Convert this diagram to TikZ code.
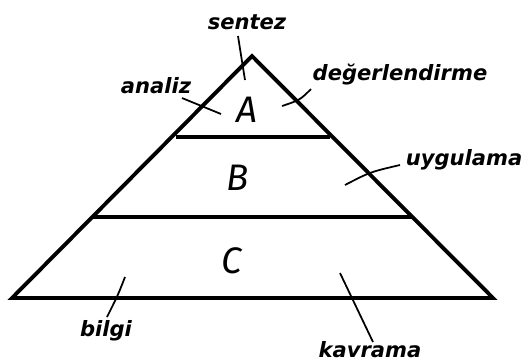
\documentclass[tikz,border=0pt]{standalone}
\usepackage{fontspec}
\setmainfont{Fira Sans}
\newfontfamily\hand{DejaVu Sans}
\begin{document}
\begin{tikzpicture}[x=0.02cm,y=-0.02cm,
  level/.style={line width=2.2pt},
  leader/.style={line width=1pt},
  lbl/.style={font=\hand\fontsize{12}{14}\selectfont\bfseries\itshape},
  letter/.style={font=\fontsize{21}{24}\selectfont\itshape}]
\useasboundingbox (0,0) rectangle (523,363);
\draw[level, line join=miter] (12,298) -- (252,56) -- (493,298) -- cycle;
\draw[level] (176,137) -- (330,137);
\draw[level] (92,217) -- (413,217);
\node[letter] (a) at (247,110) {A};
\node[letter] (b) at (238,178) {B};
\node[letter] (c) at (232,261) {C};
\node[lbl] (sentez) at (247,22) {sentez};
\node[lbl] (analiz) at (156,86) {analiz};
\node[lbl] (deger) at (400,74) {değerlendirme};
\node[lbl] (uyg) at (464,160) {uygulama};
\node[lbl] (bilgi) at (106,331) {bilgi};
\node[lbl] (kavr) at (370,350) {kavrama};
\coordinate (ps) at (245,80);
\coordinate (pa) at (221,114);
\coordinate (pd) at (282,106);
\coordinate (pu) at (345,185);
\coordinate (pb) at (125,277);
\coordinate (pk) at (340,273);
\draw[leader] (238,36) .. controls (241,55) .. (ps);
\draw[leader] (182,98) -- (pa);
\draw[leader] (311,89) .. controls (300,100) .. (pd);
\draw[leader] (400,165) .. controls (370,172) .. (pu);
\draw[leader] (107,317) .. controls (118,295) .. (pb);
\draw[leader] (373,342) -- (pk);
\end{tikzpicture}
\end{document}
